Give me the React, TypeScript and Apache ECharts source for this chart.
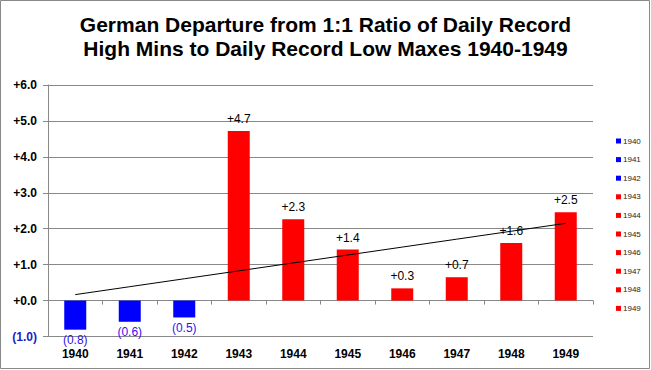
import React, { useEffect, useRef } from "react";
import * as echarts from "echarts";

const years = ["1940", "1941", "1942", "1943", "1944", "1945", "1946", "1947", "1948", "1949"];
const departures = [-0.81, -0.59, -0.47, 4.72, 2.26, 1.42, 0.34, 0.65, 1.6, 2.46];
const barColors = ["#0000FF", "#0000FF", "#0000FF", "#FF0000", "#FF0000", "#FF0000", "#FF0000", "#FF0000", "#FF0000", "#FF0000"];
const titleLines = ["German Departure from 1:1 Ratio of Daily Record", "High Mins to Daily Record Low Maxes 1940-1949"];

function trend(values: number[]): number[] {
  const n = values.length;
  const mx = (n - 1) / 2;
  const my = values.reduce((a, b) => a + b, 0) / n;
  let sxy = 0, sxx = 0;
  values.forEach((v, i) => { sxy += (i - mx) * (v - my); sxx += (i - mx) * (i - mx); });
  const slope = sxy / sxx;
  return values.map((_, i) => +(my + slope * (i - mx)).toFixed(4));
}

const fmt = (v: number) => (v < 0 ? `(${Math.abs(v).toFixed(1)})` : `+${v.toFixed(1)}`);

export default function App() {
  const ref = useRef<HTMLDivElement>(null);
  useEffect(() => {
    if (!ref.current) return;
    const chart = echarts.init(ref.current, undefined, { renderer: "svg" });
    const font = "'Liberation Sans', Arial, sans-serif";
    const gray = "#888888";
    const titleStyle = { fontFamily: font, fontSize: 21, fontWeight: "bold", lineHeight: 23, color: "#000" };
    chart.setOption({
      animation: false,
      textStyle: { fontFamily: font },
      title: [
        { text: titleLines[0], left: "center", top: 13, padding: 0, textStyle: titleStyle },
        { text: titleLines[1], left: "center", top: 37, padding: 0, textStyle: titleStyle },
      ],
      graphic: [
        { type: "rect", shape: { x: 0.5, y: 0.5, width: 649, height: 368 }, style: { fill: "none", stroke: gray, lineWidth: 1 }, silent: true },
      ],
      legend: {
        orient: "vertical",
        left: 611,
        top: 131,
        icon: "rect",
        itemWidth: 5,
        itemHeight: 5,
        itemGap: 8.6,
        selectedMode: false,
        textStyle: { fontSize: 8, color: "#222", lineHeight: 10, padding: [0, 0, 0, -3] },
        data: years,
      },
      grid: { left: 48, right: 58, top: 85, bottom: 33.5, containLabel: false },
      xAxis: [
        {
          type: "category",
          data: years,
          position: "bottom",
          axisLine: { show: false, onZero: false },
          axisTick: { show: false },
          axisLabel: { fontSize: 12, fontWeight: "bold", color: "#000", margin: 11 },
          splitLine: { show: false },
        },
        {
          type: "category",
          data: years,
          position: "bottom",
          axisLine: { show: true, onZero: true, lineStyle: { color: gray, width: 1 } },
          axisTick: { show: true, length: 4, lineStyle: { color: gray } },
          axisLabel: { show: false },
          splitLine: { show: false },
        },
      ],
      yAxis: {
        type: "value",
        min: -1,
        max: 6,
        interval: 1,
        axisLine: { show: true, lineStyle: { color: gray } },
        axisTick: { show: true, length: 5, lineStyle: { color: gray } },
        splitLine: { show: true, lineStyle: { color: gray, width: 1 } },
        axisLabel: {
          margin: 11,
          formatter: (v: number) => (v < 0 ? `{neg|${fmt(v)}}` : `{pos|${fmt(v)}}`),
          rich: {
            pos: { fontSize: 12, fontWeight: "bold", color: "#000", fontFamily: font },
            neg: { fontSize: 12, fontWeight: "bold", color: "#2020C8", fontFamily: font },
          },
        },
      },
      series: [
        {
          type: "bar",
          name: "Departure",
          xAxisIndex: 0,
          barWidth: 22,
          data: departures.map((v, i) => ({
            value: v,
            itemStyle: { color: barColors[i] },
            label: v < 0
              ? { show: true, position: "bottom", distance: 4, color: "#3311EE", fontSize: 12, lineHeight: 13, formatter: () => fmt(v) }
              : { show: true, position: "top", distance: 6, color: "#000", fontSize: 12, formatter: () => fmt(v) },
          })),
        },
        {
          type: "line",
          name: "Trend",
          xAxisIndex: 0,
          data: trend(departures),
          symbol: "none",
          lineStyle: { color: "#000", width: 1 },
          itemStyle: { color: "#000" },
          z: 5,
        },
        ...years.map((y, i) => ({
          type: "line",
          name: y,
          xAxisIndex: 0,
          data: [],
          symbol: "none",
          itemStyle: { color: barColors[i] },
          lineStyle: { color: barColors[i] },
        })),
      ],
    });
    return () => chart.dispose();
  }, []);
  return <div ref={ref} style={{ position: "absolute", left: 0, top: 0, width: 651, height: 370 }} />;
}
